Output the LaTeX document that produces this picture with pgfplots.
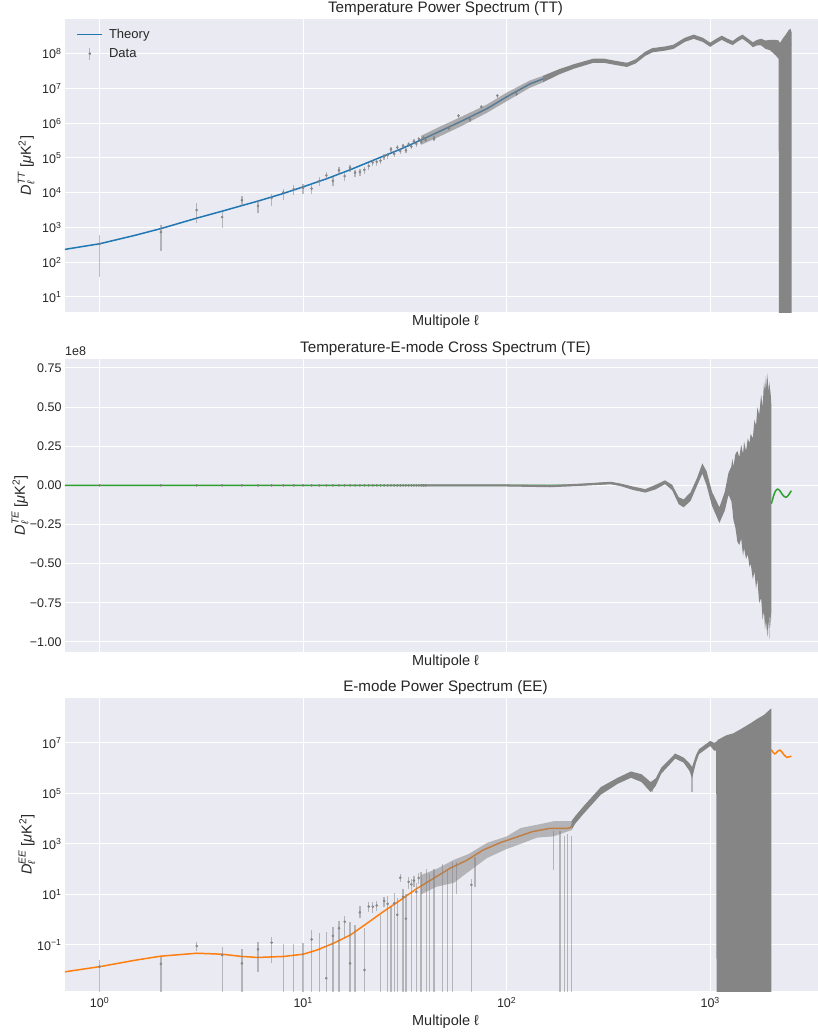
\documentclass[border=0pt]{standalone}
\usepackage{fontspec}
\setmainfont{Liberation Sans}
\usepackage{amsmath}
\usepackage{pgfplots}
\pgfplotsset{compat=1.18}

\definecolor{bgc}{HTML}{EAEAF2}
\definecolor{txt}{HTML}{262626}
\definecolor{c0}{HTML}{1F77B4}
\definecolor{c1}{HTML}{FF7F0E}
\definecolor{c2}{HTML}{2CA02C}
\definecolor{dat}{HTML}{808080}
\definecolor{blk}{HTML}{858585}

\newcommand{\tp}[1]{10\textsuperscript{#1}}
\newcommand{\dlab}[1]{$\textit{D}_{\textit{ℓ}}^{\textit{#1}}$ [\textit{μ}K\textsuperscript{2}]}

\pgfplotsset{every axis/.append style={
    scale only axis, width=761bp, height=293bp,
    xmode=log, xmin=0.676, xmax=3707,
    axis background/.style={fill=bgc},
    axis line style={draw=none},
    major tick length=0pt, minor tick length=0pt,
    grid=major, major grid style={white, line width=1bp},
    xtick={1,10,100,1000},
    clip mode=individual,
    tick label style={font=\fontsize{12.5bp}{14bp}\selectfont, text=txt},
    every axis label/.append style={font=\fontsize{14.5bp}{17bp}\selectfont, text=txt},
    every axis title/.append style={font=\fontsize{15.2bp}{18bp}\selectfont, text=txt, yshift=-6bp},
    xlabel={Multipole ℓ},
}}

\begin{document}
\begin{tikzpicture}
\path[use as bounding box] (0bp,0bp) rectangle (818bp,-1032bp);

% ---------------- TT ----------------
\begin{axis}[at={(65bp,-19bp)}, anchor=north west,
  title={Temperature Power Spectrum (TT)},
  ymode=log, ymin=3.7, ymax=1e9,
  ytick={1e1,1e2,1e3,1e4,1e5,1e6,1e7,1e8},
  yticklabels={\tp{1},\tp{2},\tp{3},\tp{4},\tp{5},\tp{6},\tp{7},\tp{8}},
  xticklabels={},
  xlabel style={at={(axis description cs:0.5,-0.034)}, anchor=center},
  ylabel={\dlab{TT}},
  ylabel style={at={(axis description cs:-0.051,0.5)}, anchor=center},
  legend style={at={(rel axis cs:0.011,0.98)}, anchor=north west, draw=none, fill=none,
    font=\fontsize{13bp}{15bp}\selectfont, text=txt, row sep=4.5bp},
  legend cell align=left,
]
\addplot[c0, line width=1.5bp,
  legend image code/.code={\draw[draw=c0, line width=1.5bp] (0bp,0bp) -- (25bp,0bp); \path (0bp,0bp) (29bp,0bp);}] coordinates {
(0.6,2.1e2) (1,3.4e2) (1.5,6.0e2) (2,9.3e2) (3,1.86e3) (4,2.95e3) (5,4.27e3) (6,5.75e3) (8,9.55e3)
(10,1.48e4) (13,2.51e4) (17,4.57e4) (22,8.51e4) (30,1.78e5) (40,3.80e5) (47,5.89e5) (60,1.15e6)
(80,2.63e6) (100,5.75e6) (130,1.35e7) (150,1.86e7) (180,3.02e7) (214,4.37e7) (267,6.31e7) (300,6.31e7)
(340,5.50e7) (390,4.79e7) (430,6.03e7) (480,1.0e8) (520,1.26e8) (600,1.41e8) (660,1.58e8) (750,2.51e8)
(830,3.09e8) (920,2.51e8) (1000,1.82e8) (1070,2.34e8) (1140,2.88e8) (1220,2.34e8) (1290,2.04e8)
(1370,2.63e8) (1440,3.09e8) (1530,2.40e8) (1620,1.82e8) (1700,2.09e8) (1780,2.19e8) (1870,1.86e8)
(1970,1.82e8) (2100,2.0e8) (2300,2.0e8) (2500,1.78e8)};
\addlegendentry{Theory}
% scattered data cloud, low multipoles
\addplot[draw=none, fill=dat, fill opacity=0.6, forget plot] table[row sep=\\] {
l y\\
38 4.37e5\\ 47 8.0e5\\ 60 1.55e6\\ 80 3.47e6\\ 100 7.6e6\\ 130 1.70e7\\ 150 2.29e7\\
150 1.48e7\\ 130 1.05e7\\ 100 4.3e6\\ 80 2.0e6\\ 60 8.3e5\\ 47 4.2e5\\ 38 2.4e5\\
};
% dense data, high multipoles
\addplot[draw=none, fill=blk, forget plot] table[row sep=\\] {
l y\\
150 2.29e7\\ 180 3.55e7\\
214 5.01e7\\ 267 7.24e7\\ 300 7.24e7\\ 340 6.31e7\\ 390 5.50e7\\ 430 6.92e7\\ 480 1.15e8\\ 520 1.45e8\\
600 1.62e8\\ 660 1.82e8\\ 750 2.88e8\\ 830 3.55e8\\ 920 2.88e8\\ 1000 2.09e8\\ 1070 2.69e8\\ 1140 3.31e8\\
1220 2.69e8\\ 1290 2.34e8\\ 1370 3.02e8\\ 1440 3.55e8\\ 1530 2.75e8\\ 1620 2.14e8\\ 1700 2.51e8\\
1780 2.69e8\\ 1870 2.40e8\\ 1970 2.51e8\\ 2100 2.51e8\\ 2170 2.40e8\\ 2200 2.0e8\\ 2280 2.82e8\\
2350 3.55e8\\ 2430 4.79e8\\ 2480 5.25e8\\ 2510 4.17e8\\
2510 1\\ 2175 1\\ 2170 7.08e7\\ 2100 8.91e7\\ 1970 1.26e8\\ 1870 1.38e8\\ 1780 1.74e8\\ 1700 1.74e8\\
1620 1.55e8\\ 1530 2.09e8\\ 1440 2.69e8\\ 1370 2.29e8\\ 1290 1.78e8\\ 1220 2.04e8\\ 1140 2.51e8\\
1070 2.04e8\\ 1000 1.58e8\\ 920 2.19e8\\ 830 2.69e8\\ 750 2.19e8\\ 660 1.38e8\\ 600 1.23e8\\ 520 1.10e8\\
480 8.71e7\\ 430 5.25e7\\ 390 4.17e7\\ 340 4.79e7\\ 300 5.50e7\\ 267 5.50e7\\ 214 3.72e7\\ 180 2.51e7\\
150 1.48e7\\
};
\addplot[dat, opacity=0.5, line width=1.3bp, unbounded coords=jump, forget plot] table[row sep=\\] {
l y\\
1 38\\ 1 617\\ nan nan\\ 2 214\\ 2 1175\\ nan nan\\ 3 1349\\ 3 5012\\ nan nan\\ 4 955\\ 4 2754\\ nan nan\\
5 4074\\ 5 7943\\ nan nan\\ 6 2630\\ 6 6166\\ nan nan\\ 7 4074\\ 7 9120\\ nan nan\\ 8 6166\\ 8 12590\\ nan nan\\
9 8511\\ 9 16600\\ nan nan\\ 10 9120\\ 10 17780\\ nan nan\\ 11 8913\\ 11 17380\\ nan nan\\
12 15490\\ 12 27540\\ nan nan\\ 13 22910\\ 13 38900\\ nan nan\\ 14 15850\\ 14 27540\\ nan nan\\
15 33110\\ 15 53700\\ nan nan\\ 16 22390\\ 16 37150\\ nan nan\\ 17 39810\\ 17 63100\\ nan nan\\
18 28840\\ 18 45710\\ nan nan\\ 19 30200\\ 19 47860\\ nan nan\\ 20 35480\\ 20 54950\\ nan nan\\
21 45710\\ 21 70790\\ nan nan\\ 22 57540\\ 22 87100\\ nan nan\\ 23 60260\\ 23 91200\\ nan nan\\
24 66070\\ 24 97720\\ nan nan\\ 25 87100\\ 25 128800\\ nan nan\\ 26 95500\\ 26 141300\\ nan nan\\
27 144500\\ 27 204200\\ nan nan\\ 28 107200\\ 28 154900\\ nan nan\\ 29 162200\\ 29 229100\\ nan nan\\
30 128800\\ 30 186200\\ nan nan\\ 31 186200\\ 31 257000\\ nan nan\\ 32 138000\\ 32 190500\\ nan nan\\
33 208900\\ 33 288400\\ nan nan\\ 34 177800\\ 34 245500\\ nan nan\\ 35 251200\\ 35 346700\\ nan nan\\
36 213800\\ 36 295100\\ nan nan\\ 37 295100\\ 37 398100\\ nan nan\\ 38 245500\\ 38 338800\\ nan nan\\
39 323600\\ 39 426600\\ nan nan\\ 40 281800\\ 40 380200\\ nan nan\\ 44 3.0e5\\ 44 4.3e5\\ nan nan\\
52 6.2e5\\ 52 8.5e5\\ nan nan\\ 58 1.4e6\\ 58 1.9e6\\ nan nan\\ 66 1.1e6\\ 66 1.6e6\\ nan nan\\
75 2.6e6\\ 75 3.4e6\\ nan nan\\ 90 5.5e6\\ 90 7.0e6\\ nan nan\\ 112 6.0e6\\ 112 8.0e6\\ nan nan\\
};
\addplot[only marks, mark=*, mark size=1.1bp, color=dat, mark options={draw=none, fill=dat, fill opacity=0.6},
  legend image code/.code={\draw[dat, opacity=0.5, line width=1.3bp] (12.5bp,-6bp) -- (12.5bp,6bp); \fill[dat] (12.5bp,0bp) circle (1.1bp); \path (0bp,0bp) (29bp,0bp);}]
 table[row sep=\\] {
l y\\
1 339\\ 2 741\\ 3 3162\\ 4 1995\\ 5 6166\\ 6 4169\\ 7 7079\\ 8 10230\\ 9 12590\\ 10 14130\\
11 13180\\ 12 21880\\ 13 31620\\ 14 21880\\ 15 44670\\ 16 30200\\ 17 52480\\ 18 38020\\ 19 39810\\
20 45710\\ 21 58880\\ 22 74130\\ 23 77620\\ 24 83180\\ 25 109600\\ 26 120200\\ 27 177800\\
28 131800\\ 29 199500\\ 30 158500\\ 31 223900\\ 32 166000\\ 33 251200\\ 34 213800\\ 35 302000\\
36 257000\\ 37 354800\\ 38 295100\\ 39 380200\\ 40 331100\\ 44 3.6e5\\ 52 7.3e5\\ 58 1.65e6\\
66 1.3e6\\ 75 3.0e6\\ 90 6.2e6\\ 112 6.9e6\\
};
\addlegendentry{Data}
\end{axis}

% ---------------- TE ----------------
\begin{axis}[at={(65bp,-359bp)}, anchor=north west,
  title={Temperature-E-mode Cross Spectrum (TE)},
  ymin=-1.064, ymax=0.807,
  ytick={-1,-0.75,-0.5,-0.25,0,0.25,0.5,0.75},
  yticklabels={−1.00,−0.75,−0.50,−0.25,0.00,0.25,0.50,0.75},
  xticklabels={},
  xlabel style={at={(axis description cs:0.5,-0.034)}, anchor=center},
  ylabel={\dlab{TE}},
  ylabel style={at={(axis description cs:-0.059,0.5)}, anchor=center},
]
\addplot[c2, line width=1.5bp] coordinates {
(0.6,0) (200,0) (238,0.005) (324,0.015) (362,0.004) (420,-0.019) (480,-0.035) (540,-0.0105)
(600,0.02) (650,-0.013) (700,-0.0975) (740,-0.115) (800,-0.0725) (860,0.02) (915,0.1075) (960,0.045)
(1020,-0.085) (1110,-0.19) (1180,-0.1) (1230,0.01) (1270,0.01) (1300,-0.02) (1400,-0.07) (1600,-0.09)
(1800,-0.1) (2000,-0.113) (2020,-0.095) (2050,-0.065) (2080,-0.043) (2110,-0.030) (2140,-0.024)
(2170,-0.026) (2210,-0.038) (2250,-0.054) (2300,-0.069) (2350,-0.076) (2390,-0.072) (2430,-0.060)
(2470,-0.046) (2505,-0.034)};
\addplot[draw=none, fill=blk] table[row sep=\\] {
l y\\
38 0.006\\ 100 0.006\\ 164 0.002\\ 238 0.012\\ 324 0.023\\ 362 0.012\\ 420 -0.008\\ 480 -0.024\\
540 0.004\\ 600 0.032\\ 650 0.004\\ 700 -0.075\\ 740 -0.09\\ 800 -0.045\\ 860 0.045\\ 915 0.14\\
960 0.09\\ 1020 -0.04\\ 1110 -0.14\\ 1180 -0.04\\ 1230 0.08\\ 1270 0.12\\ 1285 0.17\\ 1300 0.12\\
1330 0.2\\ 1360 0.22\\ 1390 0.18\\ 1420 0.26\\ 1450 0.2\\ 1467 0.28\\ 1500 0.22\\ 1530 0.3\\
1560 0.27\\ 1581 0.33\\ 1620 0.3\\ 1650 0.42\\ 1680 0.38\\ 1706 0.5\\ 1740 0.45\\ 1780 0.58\\
1810 0.5\\ 1838 0.66\\ 1860 0.6\\ 1880 0.7\\ 1900 0.62\\ 1910 0.72\\ 1930 0.6\\ 1950 0.66\\
1983 0.58\\ 2000 0.5\\
2000 -0.78\\ 1983 -0.9\\ 1965 -0.8\\ 1950 -0.98\\ 1930 -0.85\\ 1910 -0.97\\ 1880 -0.86\\
1860 -0.92\\ 1838 -0.8\\ 1810 -0.86\\ 1780 -0.72\\ 1740 -0.75\\ 1706 -0.6\\ 1680 -0.66\\
1650 -0.55\\ 1620 -0.6\\ 1581 -0.5\\ 1560 -0.52\\ 1530 -0.44\\ 1500 -0.47\\ 1467 -0.4\\
1450 -0.45\\ 1420 -0.34\\ 1390 -0.38\\ 1360 -0.36\\ 1330 -0.27\\ 1300 -0.22\\ 1285 -0.15\\
1270 -0.1\\ 1230 -0.06\\ 1180 -0.16\\ 1110 -0.24\\ 1020 -0.13\\
960 0.0\\ 915 0.075\\ 860 -0.005\\ 800 -0.10\\ 740 -0.14\\ 700 -0.12\\ 650 -0.03\\ 600 0.008\\
540 -0.025\\ 480 -0.046\\ 420 -0.03\\ 362 -0.004\\ 324 0.007\\ 238 -0.002\\ 164 -0.012\\
100 -0.007\\ 38 -0.006\\
};
\addplot[only marks, mark=*, mark size=1.1bp, color=dat, mark options={draw=none, fill=dat, fill opacity=0.6}]
 table[row sep=\\] {
l y\\
1 0\\ 2 0\\ 3 0\\ 4 0\\ 5 0\\ 6 0\\ 7 0\\ 8 0\\ 9 0\\ 10 0\\ 11 0\\ 12 0\\ 13 0\\ 14 0\\ 15 0\\
16 0\\ 17 0\\ 18 0\\ 19 0\\ 20 0\\ 21 0\\ 22 0\\ 23 0\\ 24 0\\ 25 0\\ 26 0\\ 27 0\\ 28 0\\ 29 0\\
30 0\\ 31 0\\ 32 0\\ 33 0\\ 34 0\\ 35 0\\ 36 0\\ 37 0\\ 38 0\\ 39 0\\ 40 0\\
};
\node[anchor=south west, inner sep=0pt, font=\fontsize{12.5bp}{14bp}\selectfont, text=txt, yshift=3bp]
  at (rel axis cs:0,1) {1e8};
\end{axis}

% ---------------- EE ----------------
\begin{axis}[at={(65bp,-698bp)}, anchor=north west,
  title={E-mode Power Spectrum (EE)},
  ymode=log, ymin=1.5e-3, ymax=6e8,
  ytick={1e-1,1e1,1e3,1e5,1e7},
  yticklabels={\tp{−1},\tp{1},\tp{3},\tp{5},\tp{7}},
  xticklabels={\tp{0},\tp{1},\tp{2},\tp{3}},
  xticklabel style={yshift=-3bp},
  xlabel style={at={(axis description cs:0.5,-0.106)}, anchor=center},
  ylabel={\dlab{EE}},
  ylabel style={at={(axis description cs:-0.050,0.5)}, anchor=center},
]
\addplot[c1, line width=1.5bp] coordinates {
(0.6,7.5e-3) (1,1.38e-2) (1.5,2.5e-2) (2,3.6e-2) (3,4.7e-2) (4,4.3e-2) (5,3.5e-2) (6,3.2e-2)
(8,3.5e-2) (10,4.3e-2) (11.7,6.3e-2) (14.1,0.117) (17.1,0.25) (20.6,0.72) (24.8,2.1) (30.1,6.0)
(36.3,17.4) (43.8,43.6) (52.8,110) (63.6,224) (76.7,575) (93,1120) (111,1820) (134,3090) (164,4170)
(200,4170) (206,4.5e3) (217,8.9e3) (239,2.24e4) (290,1.26e5) (351,3.16e5) (408,5.56e5) (460,4.03e5)
(510,1.78e5) (540,2.82e5) (575,7.96e5) (673,3.02e6) (740,2.09e6) (790,1.12e6) (815,6.7e5)
(850,2.24e6) (880,4.47e6) (1000,9.55e6) (1045,7.1e6) (1075,7.5e6) (1300,8e6) (1600,6.5e6)
(1900,5.5e6) (2000,5.2e6) (2035,4.3e6) (2074,3.7e6) (2110,4.0e6) (2150,4.8e6) (2203,5.2e6)
(2250,4.4e6) (2310,3.3e6) (2376,2.7e6) (2440,2.8e6) (2505,3.0e6)};
% scattered data cloud, low multipoles
\addplot[draw=none, fill=dat, fill opacity=0.5] table[row sep=\\] {
l y\\
38 58.9\\ 45 100\\ 55 234\\ 65 398\\ 80 1096\\ 100 1995\\ 117 4266\\ 141 5754\\ 170 7943\\ 208 8000\\
208 3500\\ 170 1995\\ 141 1778\\ 117 1000\\ 100 631\\ 80 275\\ 65 79.4\\ 55 28.8\\ 45 20.0\\ 38 10.0\\
};
% dense data, high multipoles
\addplot[draw=none, fill=blk] table[row sep=\\] {
l y\\
208 8000\\ 217 1.26e4\\ 239 3.16e4\\ 290 1.78e5\\ 351 4.17e5\\ 408 7.41e5\\ 460 5.75e5\\ 510 2.82e5\\
540 3.98e5\\ 575 1.05e6\\ 673 3.80e6\\ 740 2.63e6\\ 790 1.58e6\\ 815 1.12e6\\ 850 3.16e6\\ 880 5.62e6\\
1000 1.20e7\\ 1045 1.0e7\\ 1075 1.12e7\\ 1090 1.32e7\\ 1200 2.0e7\\ 1300 2.40e7\\ 1450 3.98e7\\
1580 6.03e7\\ 1700 8.91e7\\ 1840 1.29e8\\ 1970 2.14e8\\ 2000 2.29e8\\
2000 1e-4\\ 1075 1e-4\\ 1070 5.0e6\\ 1045 5.0e6\\ 1000 7.59e6\\ 880 3.55e6\\ 850 1.58e6\\ 815 3.98e5\\
790 7.94e5\\ 740 1.66e6\\ 673 2.40e6\\ 575 6.03e5\\ 540 2.0e5\\ 510 1.12e5\\ 460 2.82e5\\ 408 4.17e5\\
351 2.40e5\\ 290 8.91e4\\ 239 1.58e4\\ 217 6310\\ 208 3500\\
};
\addplot[dat, opacity=0.5, line width=1.3bp, unbounded coords=jump] table[row sep=\\] {
l y\\
1 1e-4\\ 1 0.0257\\ nan nan\\ 2 1e-4\\ 2 0.0347\\ nan nan\\ 3 0.0562\\ 3 0.126\\ nan nan\\
4 1e-4\\ 4 0.0851\\ nan nan\\ 5 1e-4\\ 5 0.0661\\ nan nan\\ 6 0.0087\\ 6 0.135\\ nan nan\\
7 0.0186\\ 7 0.214\\ nan nan\\ 8 1e-4\\ 8 0.107\\ nan nan\\ 9 1e-4\\ 9 0.112\\ nan nan\\
10 1e-4\\ 10 0.117\\ nan nan\\ 11 1e-4\\ 11 0.389\\ nan nan\\ 12 1e-4\\ 12 0.309\\ nan nan\\
13 1e-4\\ 13 0.339\\ nan nan\\ 14 1e-4\\ 14 0.537\\ nan nan\\ 15 1e-4\\ 15 0.912\\ nan nan\\
16 0.186\\ 16 1.45\\ nan nan\\ 17 1e-4\\ 17 0.832\\ nan nan\\ 18 1e-4\\ 18 0.631\\ nan nan\\
19 1.15\\ 19 3.47\\ nan nan\\ 20 1e-4\\ 20 0.457\\ nan nan\\ 21 2.0\\ 21 5.01\\ nan nan\\
22 1.91\\ 22 5.25\\ nan nan\\ 23 2.24\\ 23 5.62\\ nan nan\\ 24 1e-4\\ 24 1.55\\ nan nan\\
25 3.16\\ 25 7.94\\ nan nan\\ 26 1e-4\\ 26 8.91\\ nan nan\\ 27 1e-4\\ 27 3.31\\ nan nan\\
28 1e-4\\ 28 11.2\\ nan nan\\ 29 1e-4\\ 29 7.08\\ nan nan\\ 30 31.6\\ 30 63.1\\ nan nan\\
31 1e-4\\ 31 15.8\\ nan nan\\ 32 1e-4\\ 32 10.0\\ nan nan\\ 33 15.8\\ 33 50.1\\ nan nan\\
34 1e-4\\ 34 39.8\\ nan nan\\ 35 20.0\\ 35 56.2\\ nan nan\\ 36 1e-4\\ 36 28.2\\ nan nan\\
37 25.1\\ 37 70.8\\ nan nan\\ 38 1e-4\\ 38 79.4\\ nan nan\\ 40.3 1e-4\\ 40.3 100\\ nan nan\\
41.8 1e-4\\ 41.8 63.1\\ nan nan\\ 43.9 1e-4\\ 43.9 100\\ nan nan\\ 48.3 1e-4\\ 48.3 158\\ nan nan\\
51.1 1e-4\\ 51.1 100\\ nan nan\\ 54.1 1e-4\\ 54.1 200\\ nan nan\\ 56.5 10\\ 56.5 200\\ nan nan\\
67.1 1e-4\\ 67.1 39.8\\ nan nan\\ 70 20\\ 70 316\\ nan nan\\ 170 93\\ 170 3162\\ nan nan\\
183 1e-4\\ 183 3162\\ nan nan\\ 193 1e-4\\ 193 1995\\ nan nan\\ 199 1e-4\\ 199 2512\\ nan nan\\
208 1e-4\\ 208 1995\\ nan nan\\ 520 1.17e5\\ 520 2.5e5\\ nan nan\\ 815 1.15e5\\ 815 1.0e6\\
};
\addplot[only marks, mark=*, mark size=1.1bp, color=dat, mark options={draw=none, fill=dat, fill opacity=0.6}]
 table[row sep=\\] {
l y\\
1 0.0138\\ 2 0.0178\\ 3 0.0912\\ 4 0.0398\\ 5 0.0186\\ 6 0.0676\\ 7 0.123\\ 11 0.166\\
13 0.00479\\ 14 0.229\\ 15 0.457\\ 16 0.832\\ 17 0.0186\\ 19 1.95\\ 20 0.0102\\ 21 3.31\\
22 3.31\\ 23 3.63\\ 25 5.50\\ 26 4.27\\ 28 4.47\\ 29 1.58\\ 30 45.7\\ 31 7.94\\ 32 1.10\\
33 31.6\\ 34 25.1\\ 35 35.5\\ 36 12.6\\ 37 44.7\\ 67.1 24\\
};
\end{axis}
\end{tikzpicture}
\end{document}
